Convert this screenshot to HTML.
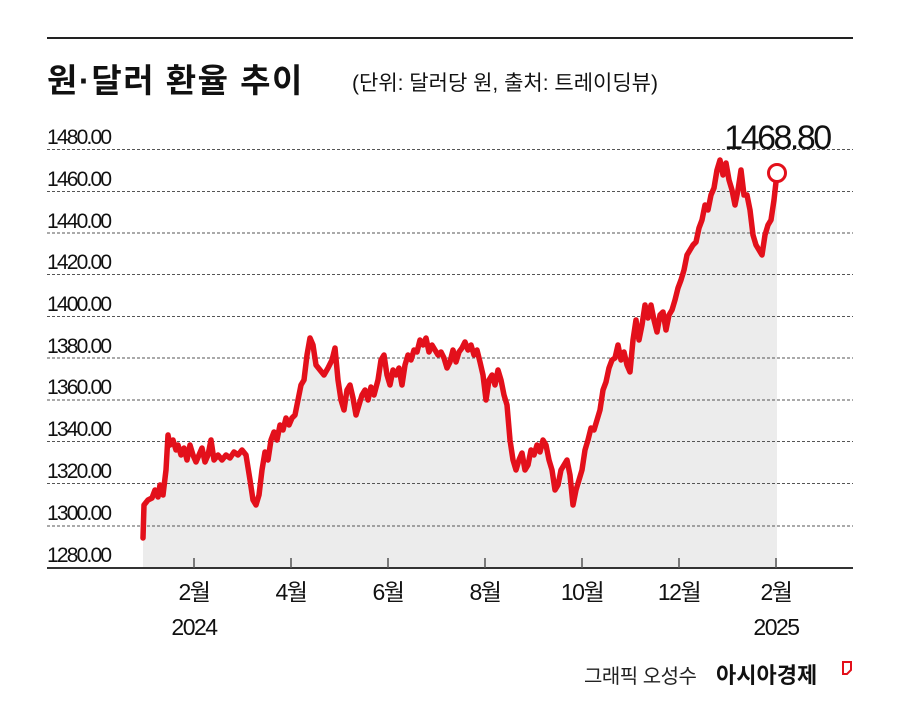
<!DOCTYPE html>
<html><head><meta charset="utf-8"><style>
html,body{margin:0;padding:0;background:#fff;}
body{width:900px;height:701px;overflow:hidden;font-family:"Liberation Sans","Noto Sans CJK KR",sans-serif;}
</style></head><body>
<svg width="900" height="701" xmlns="http://www.w3.org/2000/svg" font-family="Liberation Sans, Noto Sans CJK KR, sans-serif">
<line x1="47" y1="38" x2="853" y2="38" stroke="#222" stroke-width="2"/>
<text x="47" y="92" font-size="33" font-weight="bold" fill="#111" letter-spacing="1.5">원·달러 환율 추이</text>
<text x="352" y="90" font-size="21" fill="#111" letter-spacing="0">(단위: 달러당 원, 출처: 트레이딩뷰)</text>
<polygon fill="#ececec" points="143,568 143,538 144,505 148,500 152,498 155,490 158,497 160,485 163,495 166,470 168,435 170,445 173,440 176,450 178,445 181,455 184,448 187,460 190,445 193,455 196,462 199,455 202,448 205,462 208,455 211,440 214,460 218,455 222,460 226,455 230,458 234,452 238,455 242,450 246,455 250,480 253,500 256,505 259,495 262,470 265,452 268,460 271,440 274,432 277,440 280,425 283,430 286,418 289,425 292,418 295,415 298,400 301,385 304,380 307,355 310,338 313,345 316,365 320,370 324,375 328,368 332,360 335,348 338,380 341,400 344,410 347,390 350,385 353,398 356,415 359,405 362,395 365,390 368,400 371,387 374,395 378,380 381,360 384,355 387,375 390,385 393,370 396,375 399,368 402,385 405,365 408,355 411,360 414,350 417,352 420,340 423,345 426,338 429,352 432,345 435,350 438,355 441,352 444,358 447,368 450,362 453,350 456,362 459,352 462,348 465,342 468,350 471,345 474,355 477,350 480,362 483,375 486,400 489,380 492,375 495,385 498,370 501,380 504,395 507,405 510,440 513,460 516,470 519,460 522,453 525,470 528,465 531,450 534,455 537,445 540,452 543,440 546,445 549,460 552,470 555,490 558,485 561,470 564,465 567,460 570,475 573,505 576,490 579,480 582,470 585,450 588,440 591,428 594,430 597,420 600,410 603,390 606,382 609,368 612,360 615,358 618,345 621,360 624,352 627,365 630,372 633,340 636,320 639,340 642,325 645,305 648,318 651,305 654,320 657,332 660,315 663,312 666,330 669,315 672,310 675,300 678,288 681,280 684,270 687,255 690,250 693,245 696,242 699,228 702,220 705,205 708,210 711,195 714,188 717,170 720,160 723,175 726,163 729,180 732,190 735,205 738,190 741,170 744,195 747,195 750,210 753,235 756,245 759,250 762,255 765,235 768,225 771,220 774,200 777,173 777,568"/>
<g stroke="#555" stroke-width="1" stroke-dasharray="3,2">
<line x1="47" y1="149.5" x2="853" y2="149.5"/><line x1="47" y1="191.5" x2="853" y2="191.5"/><line x1="47" y1="233" x2="853" y2="233"/><line x1="47" y1="274.5" x2="853" y2="274.5"/><line x1="47" y1="316.5" x2="853" y2="316.5"/><line x1="47" y1="358" x2="853" y2="358"/><line x1="47" y1="400" x2="853" y2="400"/><line x1="47" y1="441.5" x2="853" y2="441.5"/><line x1="47" y1="483.5" x2="853" y2="483.5"/><line x1="47" y1="526" x2="853" y2="526"/>
</g>
<g font-size="21" fill="#111" letter-spacing="-1.8">
<text x="47" y="144">1480.00</text><text x="47" y="186">1460.00</text><text x="47" y="228">1440.00</text><text x="47" y="269">1420.00</text><text x="47" y="311">1400.00</text><text x="47" y="353">1380.00</text><text x="47" y="394">1360.00</text><text x="47" y="436">1340.00</text><text x="47" y="478">1320.00</text><text x="47" y="520">1300.00</text><text x="47" y="562">1280.00</text>
</g>
<line x1="47" y1="568" x2="853" y2="568" stroke="#333" stroke-width="2"/>
<g stroke="#555" stroke-width="1.5">
<line x1="194" y1="558" x2="194" y2="568"/><line x1="291" y1="558" x2="291" y2="568"/><line x1="388" y1="558" x2="388" y2="568"/><line x1="485" y1="558" x2="485" y2="568"/><line x1="582" y1="558" x2="582" y2="568"/><line x1="679" y1="558" x2="679" y2="568"/><line x1="776" y1="558" x2="776" y2="568"/>
</g>
<g font-size="23" fill="#111" text-anchor="middle" letter-spacing="-1.5">
<text x="194" y="600">2월</text><text x="291" y="600">4월</text><text x="388" y="600">6월</text><text x="485" y="600">8월</text><text x="582" y="600">10월</text><text x="679" y="600">12월</text><text x="776" y="600">2월</text>
<text x="194" y="635">2024</text><text x="776" y="635">2025</text>
</g>
<polyline fill="none" stroke="#e3101b" stroke-width="5.5" stroke-linejoin="round" stroke-linecap="round" points="143,538 144,505 148,500 152,498 155,490 158,497 160,485 163,495 166,470 168,435 170,445 173,440 176,450 178,445 181,455 184,448 187,460 190,445 193,455 196,462 199,455 202,448 205,462 208,455 211,440 214,460 218,455 222,460 226,455 230,458 234,452 238,455 242,450 246,455 250,480 253,500 256,505 259,495 262,470 265,452 268,460 271,440 274,432 277,440 280,425 283,430 286,418 289,425 292,418 295,415 298,400 301,385 304,380 307,355 310,338 313,345 316,365 320,370 324,375 328,368 332,360 335,348 338,380 341,400 344,410 347,390 350,385 353,398 356,415 359,405 362,395 365,390 368,400 371,387 374,395 378,380 381,360 384,355 387,375 390,385 393,370 396,375 399,368 402,385 405,365 408,355 411,360 414,350 417,352 420,340 423,345 426,338 429,352 432,345 435,350 438,355 441,352 444,358 447,368 450,362 453,350 456,362 459,352 462,348 465,342 468,350 471,345 474,355 477,350 480,362 483,375 486,400 489,380 492,375 495,385 498,370 501,380 504,395 507,405 510,440 513,460 516,470 519,460 522,453 525,470 528,465 531,450 534,455 537,445 540,452 543,440 546,445 549,460 552,470 555,490 558,485 561,470 564,465 567,460 570,475 573,505 576,490 579,480 582,470 585,450 588,440 591,428 594,430 597,420 600,410 603,390 606,382 609,368 612,360 615,358 618,345 621,360 624,352 627,365 630,372 633,340 636,320 639,340 642,325 645,305 648,318 651,305 654,320 657,332 660,315 663,312 666,330 669,315 672,310 675,300 678,288 681,280 684,270 687,255 690,250 693,245 696,242 699,228 702,220 705,205 708,210 711,195 714,188 717,170 720,160 723,175 726,163 729,180 732,190 735,205 738,190 741,170 744,195 747,195 750,210 753,235 756,245 759,250 762,255 765,235 768,225 771,220 774,200 777,173"/>
<circle cx="777" cy="173" r="8.5" fill="#fff" stroke="#e3101b" stroke-width="3"/>
<text x="777" y="149" font-size="34" fill="#111" text-anchor="middle" letter-spacing="-2.5">1468.80</text>
<text x="584" y="683" font-size="20" fill="#222" letter-spacing="-0.5">그래픽 오성수</text>
<text x="716" y="683" font-size="22" font-weight="bold" fill="#111" letter-spacing="0">아시아경제</text>
<path d="M843,662 h8 v8 l-4,4 h-4 z" fill="none" stroke="#e3101b" stroke-width="2"/>
</svg>
</body></html>
